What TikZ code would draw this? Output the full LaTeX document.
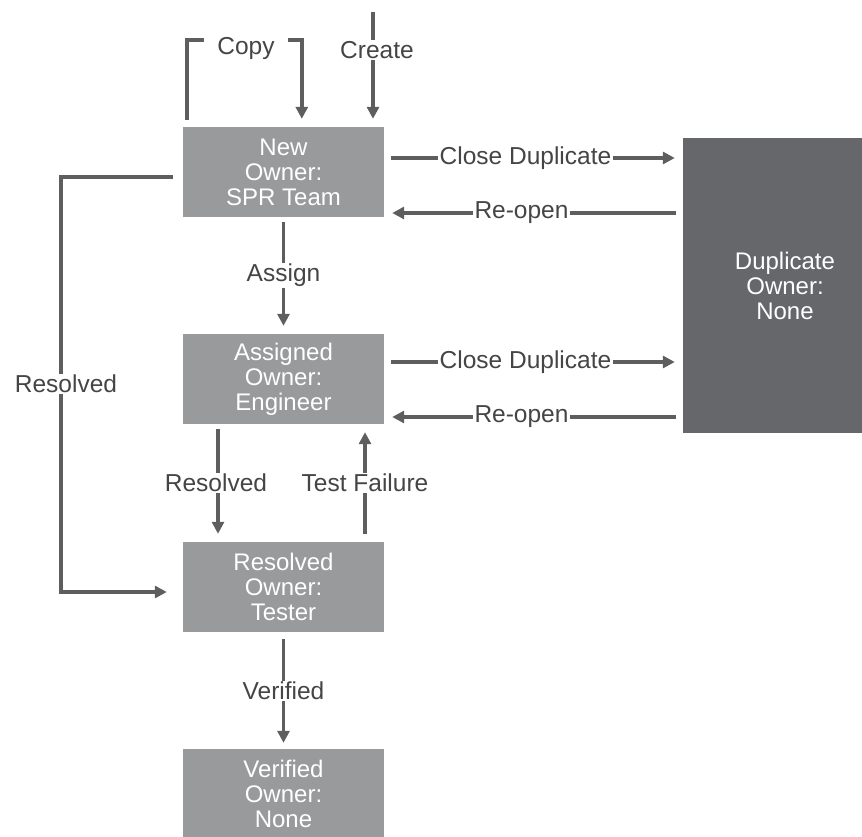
\documentclass[tikz,border=0pt]{standalone}
\usepackage{fontspec}
\setmainfont{Liberation Sans}
\usetikzlibrary{arrows.meta}
\definecolor{boxgray}{HTML}{999A9C}
\definecolor{dupgray}{HTML}{65676A}
\definecolor{linegray}{HTML}{5E5E5E}
\definecolor{labelgray}{HTML}{454545}
\tikzset{
  x=1pt, y=-1pt,
  state/.style={fill=boxgray, text=white, minimum width=201pt, minimum height=90pt,
    inner sep=0pt, align=center, font=\fontsize{24}{25}\selectfont},
  conn/.style={draw=linegray, line width=3.6pt, shorten >=8pt, shorten <=7pt,
    -{Triangle[length=12pt,width=12pt]}},
  lbl/.style={fill=white, text=labelgray, inner xsep=2pt, inner ysep=1pt,
    font=\fontsize{24.5}{25}\selectfont}
}
\begin{document}
\begin{tikzpicture}
\useasboundingbox (0,0) rectangle (862,837);
\clip (0,0) rectangle (862,837);

% states
\node[state] (new) at (283.5,172) {New\\Owner:\\SPR Team};
\node[state] (asg) at (283.5,379) {Assigned\\Owner:\\Engineer};
\node[state] (res) at (283.5,587) {Resolved\\Owner:\\Tester};
\node[state] (ver) at (283.5,794) {Verified\\Owner:\\None};
\node[state, fill=dupgray, minimum width=204pt, minimum height=295pt] (dup) at (785,285.5) {Duplicate\\Owner:\\None};

% create
\coordinate (crt) at (373,12);
\draw[conn, shorten <=0pt] (crt) -- (crt |- new.north)
  node[lbl, pos=0.33, xshift=4pt] {Create};

% copy loop
\coordinate (cpy) at (246,40);
\draw[conn] ([xshift=4pt]new.north west) |- (cpy) -| ([xshift=119pt]new.north west);
\node[lbl, inner xsep=13pt, yshift=-8pt] (cpylbl) at (cpy) {Copy};

% new <-> duplicate
\draw[conn] ([yshift=14pt]new.east) -- ([yshift=14pt]new.east -| dup.west)
  node[lbl, midway, xshift=-8pt] {Close Duplicate};
\draw[conn] ([yshift=-41pt]new.east -| dup.west) -- ([yshift=-41pt]new.east)
  node[lbl, midway, xshift=-12pt] {Re-open};

% assigned <-> duplicate
\draw[conn] ([yshift=17pt]asg.east) -- ([yshift=17pt]asg.east -| dup.west)
  node[lbl, midway, xshift=-8pt] {Close Duplicate};
\draw[conn] ([yshift=-38pt]asg.east -| dup.west) -- ([yshift=-38pt]asg.east)
  node[lbl, midway, xshift=-12pt] {Re-open};

% assign
\draw[conn, shorten <=5pt] (new.south) -- (asg.north) node[lbl, midway] {Assign};

% resolved / test failure
\draw[conn, shorten <=5pt] ([xshift=-65.5pt]asg.south) -- ([xshift=-65.5pt]asg.south |- res.north)
  node[lbl, midway, xshift=-2pt] {Resolved};
\draw[conn, shorten <=8pt] ([xshift=81.5pt]res.north) -- ([xshift=81.5pt]res.north |- asg.south)
  node[lbl, midway] {Test Failure};

% resolved bypass
\coordinate (lft) at (61,384);
\draw[conn, shorten <=10pt, shorten >=16pt] ([yshift=-5pt]new.west) -| (lft) |- ([yshift=-5pt]res.west);
\node[lbl, xshift=5pt] (lftlbl) at (lft) {Resolved};

% verified
\draw[conn, shorten <=7pt, shorten >=6pt] (res.south) -- (ver.north) node[lbl, midway] {Verified};
\end{tikzpicture}
\end{document}
